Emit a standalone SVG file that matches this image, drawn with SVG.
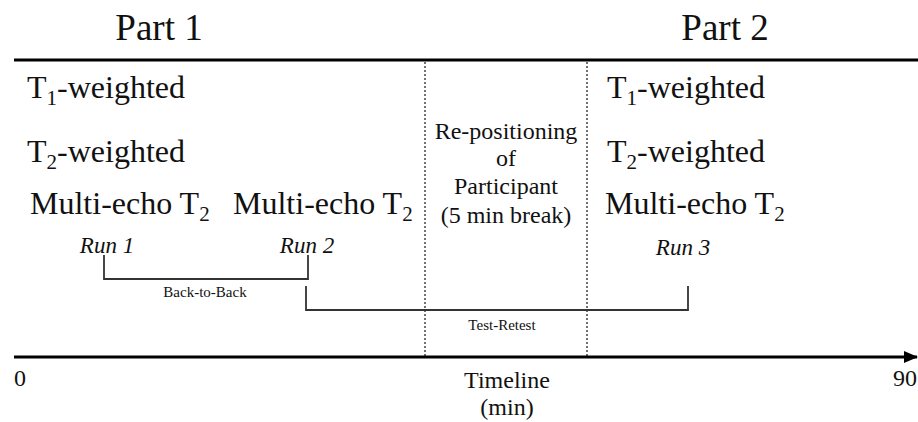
<svg xmlns="http://www.w3.org/2000/svg" width="918" height="422" viewBox="0 0 918 422" font-family="'Liberation Serif', 'DejaVu Serif', serif">
<style>
text{font-family:'Liberation Serif','DejaVu Serif',serif;fill:#111}
.h{font-size:37px}
.m{font-size:32px}
.b{font-size:24px}
.r{font-size:23px;font-style:italic}
.s{font-size:15px}
.sub{font-size:21px}
.dot{stroke:#444;stroke-width:1.5;stroke-dasharray:2 2;fill:none}
.br{stroke:#333;stroke-width:1.8;fill:none}
</style>
<defs>
<marker id="ah" markerWidth="14" markerHeight="14" refX="13" refY="7" orient="auto" markerUnits="userSpaceOnUse">
<path d="M0,1 L14,7 L0,13 Z" fill="#000"/>
</marker>
</defs>
<rect width="918" height="422" fill="#fff"/>
<g id="header">
<text class="h" x="159" y="40" text-anchor="middle">Part 1</text>
<text class="h" x="725" y="40" text-anchor="middle">Part 2</text>
<line x1="14" y1="60" x2="918" y2="60" stroke="#000" stroke-width="3"/>
</g>
<g id="part1">
<text class="m" x="27" y="98">T<tspan class="sub" dy="7">1</tspan><tspan dy="-7">-weighted</tspan></text>
<text class="m" x="27" y="162">T<tspan class="sub" dy="7">2</tspan><tspan dy="-7">-weighted</tspan></text>
<text class="m" x="30" y="214">Multi-echo T<tspan class="sub" dy="7">2</tspan></text>
<text class="m" x="233" y="214">Multi-echo T<tspan class="sub" dy="7">2</tspan></text>
<text class="r" x="107" y="253" text-anchor="middle">Run 1</text>
<text class="r" x="307" y="253" text-anchor="middle">Run 2</text>
</g>
<g id="break">
<line class="dot" x1="425" y1="62" x2="425" y2="356"/>
<line class="dot" x1="587" y1="62" x2="587" y2="356"/>
<text class="b" x="506" y="139" text-anchor="middle">Re-positioning</text>
<text class="b" x="506" y="166" text-anchor="middle">of</text>
<text class="b" x="506" y="194" text-anchor="middle">Participant</text>
<text class="b" x="506" y="223" text-anchor="middle">(5 min break)</text>
</g>
<g id="part2">
<text class="m" x="607" y="98">T<tspan class="sub" dy="7">1</tspan><tspan dy="-7">-weighted</tspan></text>
<text class="m" x="607" y="162">T<tspan class="sub" dy="7">2</tspan><tspan dy="-7">-weighted</tspan></text>
<text class="m" x="605" y="214">Multi-echo T<tspan class="sub" dy="7">2</tspan></text>
<text class="r" x="683" y="255" text-anchor="middle">Run 3</text>
</g>
<g id="connectors">
<polyline class="br" points="104,255 104,279 308,279 308,255"/>
<text class="s" x="205" y="297" text-anchor="middle">Back-to-Back</text>
<polyline class="br" points="306,286 306,310 688,310 688,286"/>
<text class="s" x="502" y="330" text-anchor="middle">Test-Retest</text>
</g>
<g id="timeline">
<line x1="14" y1="357" x2="917" y2="357" stroke="#000" stroke-width="3" marker-end="url(#ah)"/>
<text class="b" x="14" y="386">0</text>
<text class="b" x="917" y="386" text-anchor="end">90</text>
<text class="b" x="507" y="388" text-anchor="middle">Timeline</text>
<text class="b" x="507" y="415" text-anchor="middle">(min)</text>
</g>
</svg>
